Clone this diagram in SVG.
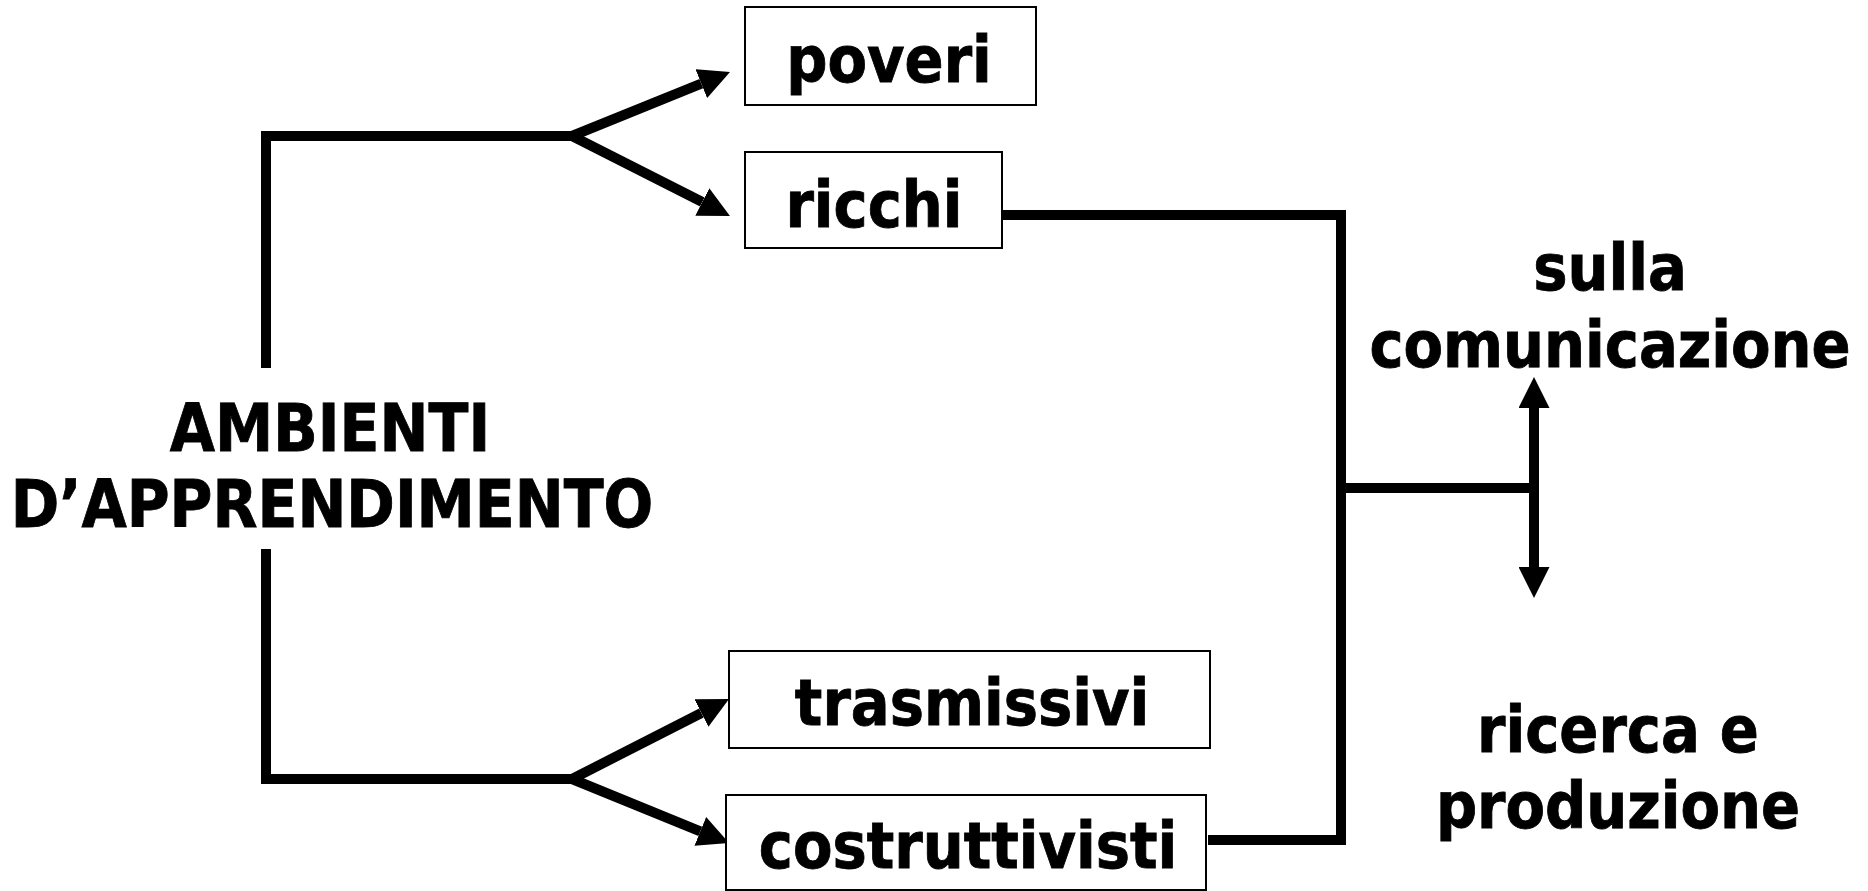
<svg xmlns="http://www.w3.org/2000/svg" width="1868" height="891" viewBox="0 0 1868 891">
  <style>
    .box { fill: #ffffff; stroke: #000000; stroke-width: 2; }
    .lbl { font-family: "DejaVu Sans Condensed", "DejaVu Sans", Verdana, sans-serif; font-stretch: condensed; font-weight: bold; font-size: 64px; fill: #000000; stroke: #000000; stroke-width: 0.8; text-anchor: middle; }
    .big { font-size: 65px; }
    .wire { fill: none; stroke: #000000; stroke-width: 10; stroke-linecap: butt; stroke-linejoin: miter; }
    .arrow { marker-end: url(#head); }
  </style>
  <defs>
    <marker id="head" markerUnits="userSpaceOnUse" markerWidth="31" markerHeight="31" viewBox="0 0 31 31" refX="0" refY="15.5" orient="auto-start-reverse">
      <path d="M0,0 L31,15.5 L0,31 Z" fill="#000000"/>
    </marker>
  </defs>
  <rect x="0" y="0" width="1868" height="891" fill="#ffffff"/>

  <g id="connectors">
    <path class="wire" d="M266,368 V136 H573"/>
    <path class="wire" d="M266,549 V779 H573"/>
    <line class="wire arrow" x1="572" y1="136" x2="701.3" y2="83.7"/>
    <line class="wire arrow" x1="572" y1="136" x2="702.3" y2="202"/>
    <line class="wire arrow" x1="572" y1="779" x2="701.4" y2="713"/>
    <line class="wire arrow" x1="572" y1="779" x2="700.3" y2="831.3"/>
    <path class="wire" d="M1000,215 H1341 V840 H1208"/>
    <path class="wire" d="M1341,488 H1534"/>
    <line class="wire" x1="1534" y1="408" x2="1534" y2="567" marker-start="url(#head)" marker-end="url(#head)"/>
  </g>

  <g id="node-ambienti">
    <text class="lbl big" x="330" y="451">AMBIENTI</text>
    <text class="lbl big" x="332" y="527">D’APPRENDIMENTO</text>
  </g>

  <g id="node-poveri">
    <rect class="box" x="745" y="7" width="291" height="98"/>
    <text class="lbl" x="889" y="82">poveri</text>
  </g>

  <g id="node-ricchi">
    <rect class="box" x="745" y="152" width="257" height="96"/>
    <text class="lbl" x="874" y="227">ricchi</text>
  </g>

  <g id="node-trasmissivi">
    <rect class="box" x="729" y="651" width="481" height="97"/>
    <text class="lbl" x="972" y="725">trasmissivi</text>
  </g>

  <g id="node-costruttivisti">
    <rect class="box" x="726" y="795" width="480" height="95"/>
    <text class="lbl" x="968" y="868">costruttivisti</text>
  </g>

  <g id="node-comunicazione">
    <text class="lbl" x="1610" y="290">sulla</text>
    <text class="lbl" x="1610" y="367">comunicazione</text>
  </g>

  <g id="node-ricerca">
    <text class="lbl" x="1618" y="752">ricerca e</text>
    <text class="lbl" x="1618" y="828">produzione</text>
  </g>
</svg>
